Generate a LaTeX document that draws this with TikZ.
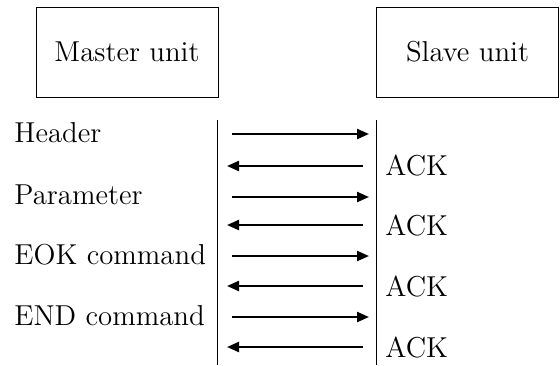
\documentclass[tikz,border=0pt]{standalone}
\usepackage{tikz}
\usetikzlibrary{positioning,arrows.meta}

\begin{document}
\begin{tikzpicture}[x=0.5pt,y=-0.5pt,
      unitbox/.style={draw=black,line width=0.5pt,minimum width=91pt,minimum height=45pt,
                  font=\fontsize{14.4}{17}\selectfont,inner sep=0pt},
      msglbl/.style={font=\fontsize{14.4}{17}\selectfont,anchor=west,inner sep=0pt},
      lifeline/.style={line width=0.5pt,black},
      msg/.style={-{Triangle[length=6pt,width=5pt]},line width=1.1pt,black}]
    \useasboundingbox (0,0) rectangle (560,365);
    % units
    \node[unitbox] (master) at (127,52) {Master unit};
    \node[unitbox] (slave) at (467.5,52) {Slave unit};
    % lifelines
    \coordinate (m0) at (217,120);
    \coordinate (m1) at (217,365);
    \coordinate (s0) at (376,120);
    \coordinate (s1) at (376,365);
    \draw[lifeline] (m0) -- (m1);
    \draw[lifeline] (s0) -- (s1);
    % labels
    \node[msglbl] (hdr) at (14,133) {Header};
    \node[msglbl] (par) at (14,195) {Parameter};
    \node[msglbl] (eok) at (14,255) {EOK command};
    \node[msglbl] (endc) at (14,316) {END command};
    \node[msglbl] (ack1) at (385,166) {ACK};
    \node[msglbl] (ack2) at (385,226) {ACK};
    \node[msglbl] (ack3) at (385,287) {ACK};
    \node[msglbl] (ack4) at (385,348) {ACK};
    % arrow ends
    \coordinate (a1) at (232,134); \coordinate (b1) at (369,134);
    \coordinate (a2) at (227,166); \coordinate (b2) at (363,166);
    \coordinate (a3) at (232,197); \coordinate (b3) at (369,197);
    \coordinate (a4) at (227,225); \coordinate (b4) at (363,225);
    \coordinate (a5) at (232,256); \coordinate (b5) at (369,256);
    \coordinate (a6) at (227,286); \coordinate (b6) at (363,286);
    \coordinate (a7) at (232,317); \coordinate (b7) at (369,317);
    \coordinate (a8) at (227,347); \coordinate (b8) at (363,347);
    \draw[msg] (a1) -- (b1);
    \draw[msg] (b2) -- (a2);
    \draw[msg] (a3) -- (b3);
    \draw[msg] (b4) -- (a4);
    \draw[msg] (a5) -- (b5);
    \draw[msg] (b6) -- (a6);
    \draw[msg] (a7) -- (b7);
    \draw[msg] (b8) -- (a8);
  \end{tikzpicture}
\end{document}
